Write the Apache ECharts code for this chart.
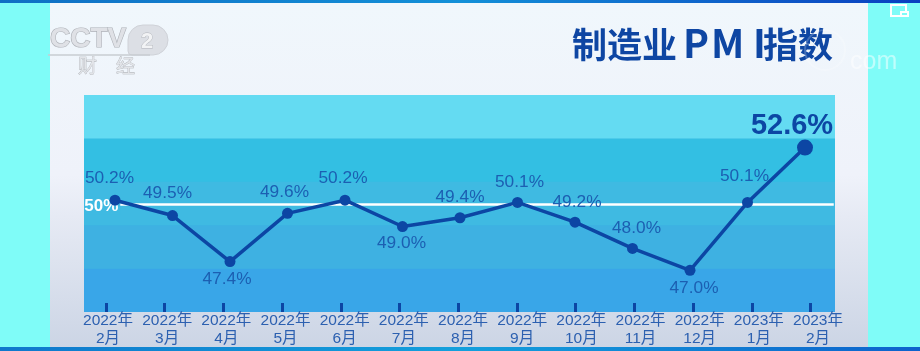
<!DOCTYPE html>
<html><head><meta charset="utf-8">
<style>html,body{margin:0;padding:0;background:#7ffcf8}#c{width:920px;height:351px}</style>
<script src="https://cdn.jsdelivr.net/npm/echarts@6/dist/echarts.min.js"></script>
</head><body><div id="c"></div>
<script>
const categories = ['2022年\n2月','2022年\n3月','2022年\n4月','2022年\n5月','2022年\n6月','2022年\n7月','2022年\n8月','2022年\n9月','2022年\n10月','2022年\n11月','2022年\n12月','2023年\n1月','2023年\n2月'];
const pmiValues = [50.2,49.5,47.4,49.6,50.2,49.0,49.4,50.1,49.2,48.0,47.0,50.1,52.6];
const referenceLevel = 50;
const bandColors = ['#39a6e8','#3eb1e2','#3fbae2','#33bfe3','#64dbf2'];
const labelShifts = [[-5.5,-22],[-5,-22],[-3,18],[-3,-21],[-2,-22],[-1,17],[0,-21],[2,-20],[2,-20],[4,-20],[4,18],[-3,-26],[-13,-22]];

const FONT = '"Liberation Sans","Noto Sans CJK SC",sans-serif';
const INK = '#0c46a4';
const LABEL = '#1c5fb2';
const TITLE_FONT = 'bold 35px "Noto Sans CJK SC"';
const LATIN_FONT = 'bold 39px "Noto Sans CJK SC"';
const titleText = (text,x,font,y) => ({type:'text', z:50, silent:true, x, y:y||27, style:{text, font:font||TITLE_FONT, fill:'#0e46a3'}});

const chart = echarts.init(document.getElementById('c'), null, {renderer:'canvas'});
const hiddenCat = {type:'category', data:categories, axisLine:{show:false}, axisTick:{show:false}, axisLabel:{show:false}};
chart.setOption({
  animation:false,
  backgroundColor:'#7ffcf8',
  graphic:[
    {type:'rect', z:-10, silent:true, shape:{x:50,y:3,width:818,height:344},
      style:{fill:new echarts.graphic.LinearGradient(0,0,0,1,[
        {offset:0,color:'#f0f7fc'},{offset:0.5,color:'#eff2fa'},{offset:0.62,color:'#e6eaf4'},{offset:1,color:'#ccd5e5'}])}},
    {type:'rect', z:-9, silent:true, shape:{x:84,y:138,width:751,height:174}, style:{fill:'#3cb4e3'}},
    {type:'rect', z:-9, silent:true, shape:{x:0,y:0,width:920,height:3},
      style:{fill:new echarts.graphic.LinearGradient(0,0,1,0,[
        {offset:0,color:'#0f6fc4'},{offset:0.5,color:'#1390d8'},{offset:1,color:'#0a3fc0'}])}},
    {type:'rect', z:-9, silent:true, shape:{x:0,y:347,width:920,height:4},
      style:{fill:new echarts.graphic.LinearGradient(0,0,1,0,[
        {offset:0,color:'#0f78cc'},{offset:0.5,color:'#14a0dc'},{offset:1,color:'#0d62cc'}])}},
    // station logo
    {type:'text', z:50, silent:true, x:50, y:25, style:{text:'CCTV', font:'bold 28px "Liberation Sans"', fill:'#dfe1e6', stroke:'#adb0b6', lineWidth:1.2}},
    {type:'rect', z:49, silent:true, shape:{x:128,y:25,width:40,height:30,r:[15,15,15,4]}, style:{fill:'#dcdfe5',stroke:'#cfd2d8'}},
    {type:'line', z:49, silent:true, shape:{x1:48,y1:55,x2:150,y2:55}, style:{stroke:'#c9ccd2',lineWidth:1.5}},
    {type:'text', z:50, silent:true, x:141, y:31, style:{text:'2', font:'bold 22px "Liberation Sans"', fill:'#f2f3f5', stroke:'#b0b3b9', lineWidth:0.8}},
    {type:'text', z:50, silent:true, x:78, y:56, style:{text:'财', font:'19px "Noto Sans CJK SC"', fill:'#e2e4e8', stroke:'#a8abb0', lineWidth:0.6}},
    {type:'text', z:50, silent:true, x:116, y:56, style:{text:'经', font:'19px "Noto Sans CJK SC"', fill:'#e2e4e8', stroke:'#a8abb0', lineWidth:0.6}},
    // title
    titleText('制造业',572),
    titleText('P',683,LATIN_FONT,24), titleText('M',711,LATIN_FONT,24), titleText('I',753,LATIN_FONT,24),
    titleText('指数',763),
    // watermark
    {type:'text', z:51, silent:true, x:850, y:50, style:{text:'com', font:'25px "Liberation Sans"', fill:'rgba(255,255,255,0.5)'}},
    {type:'circle', z:51, silent:true, shape:{cx:825,cy:50,r:20}, style:{fill:'none',stroke:'rgba(255,255,255,0.22)',lineWidth:2}},
    // corner icon
    {type:'rect', z:51, silent:true, shape:{x:891,y:5,width:15,height:11}, style:{fill:'none',stroke:'#fff',lineWidth:2}},
    {type:'rect', z:51, silent:true, shape:{x:901,y:12,width:7,height:4}, style:{fill:'#7ffcf8',stroke:'#fff',lineWidth:2}}
  ],
  grid:[
    {left:84, top:95, width:751, height:217},      // bands
    {left:86.25, top:95, width:747.5, height:217}, // line
    {left:108, top:95, width:710, height:217},     // month labels
    {left:106, top:95, width:704.6, height:217}    // tick marks
  ],
  xAxis:[
    {gridIndex:0, type:'value', min:0, max:1, show:false},
    Object.assign({gridIndex:1, boundaryGap:true}, hiddenCat),
    {gridIndex:2, type:'category', data:categories, boundaryGap:false, axisLine:{show:false}, axisTick:{show:false},
      axisLabel:{show:true, interval:0, margin:0, color:'#2c60b0', fontFamily:FONT, fontSize:15.5, lineHeight:18, hideOverlap:false}},
    {gridIndex:3, type:'category', data:categories, boundaryGap:false, axisLine:{show:false}, axisLabel:{show:false},
      axisTick:{show:true, inside:true, length:9, interval:0, lineStyle:{color:INK, width:3}}}
  ],
  yAxis:[
    {gridIndex:0, type:'value', min:0, max:5, interval:1, axisLine:{show:false}, axisTick:{show:false}, axisLabel:{show:false},
      splitLine:{show:false}, splitArea:{show:true, areaStyle:{color:bandColors}}},
    {gridIndex:1, type:'value', min:45.1, max:55, show:false, splitLine:{show:false}},
    {gridIndex:2, type:'value', show:false, splitLine:{show:false}},
    {gridIndex:3, type:'value', show:false, splitLine:{show:false}}
  ],
  series:[
    {type:'line', name:'制造业PMI指数', xAxisIndex:1, yAxisIndex:1, z:5,
      data:pmiValues.map((v,i)=>({
        value:v,
        symbolSize:i===pmiValues.length-1?16:11,
        label:{show:true, position:'inside', offset:labelShifts[i],
          formatter:v.toFixed(1)+'%',
          color:i===pmiValues.length-1?INK:LABEL,
          fontFamily:FONT,
          fontSize:i===pmiValues.length-1?29:17.3,
          fontWeight:i===pmiValues.length-1?'bold':'normal'}
      })),
      symbol:'circle', showSymbol:true, showAllSymbol:true,
      lineStyle:{color:INK,width:3.5}, itemStyle:{color:INK},
      markLine:{silent:true, symbol:'none', z:3,
        lineStyle:{color:'#fff',width:2.5,type:'solid'},
        data:[{yAxis:referenceLevel}],
        label:{show:true, position:'insideStartBottom', formatter:'50%', distance:0, offset:[-2,-7],
          color:'#fff', fontFamily:FONT, fontWeight:'bold', fontSize:17, backgroundColor:'#3fbae2', padding:[0,2,0,0]}}
    }
  ]
});
</script></body></html>
